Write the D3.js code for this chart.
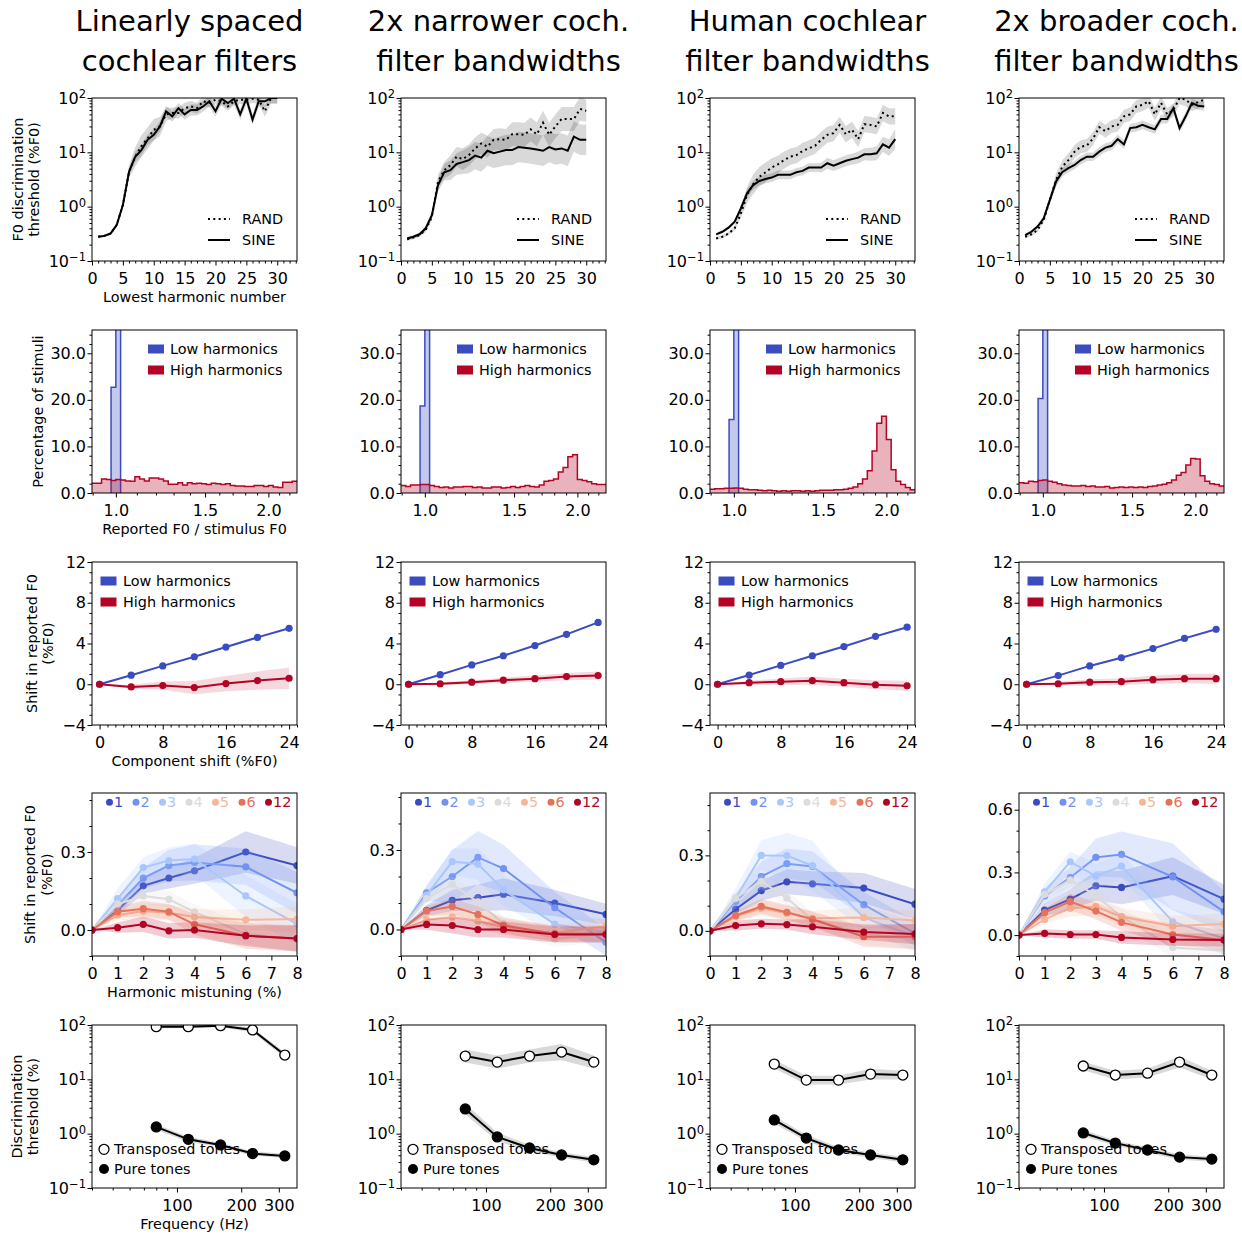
<!DOCTYPE html>
<html lang="en">
<head>
<meta charset="utf-8">
<title>Cochlear filter bandwidth comparison</title>
<script src="https://cdn.jsdelivr.net/npm/d3@7"></script>
<style>
body { margin:0; background:#fff; }
text { font-family: "DejaVu Sans", sans-serif; }
</style>
</head>
<body>
<svg id="fig" width="1242" height="1235"></svg>
<script>

// ---- data ----
var titles = [["Linearly spaced", "cochlear filters"], ["2x narrower coch.", "filter bandwidths"],
              ["Human cochlear", "filter bandwidths"], ["2x broader coch.", "filter bandwidths"]];

// row 1: F0 discrimination threshold vs lowest harmonic number
var lowestHarmonic = [1,2,3,4,5,6,7,8,9,10,11,12,13,14,15,16,17,18,19,20,21,22,23,24,25,26,27,28,29,30];
var sineThr = [
  [0.28,0.29,0.32,0.46,1.07,4.4,8.3,11,17,21,30,57,46,65,50,60,60,70,87,57,97,81,97,50,97,40,87,87,100,100],
  [0.26,0.28,0.31,0.40,0.70,2.5,4.3,4.7,6.1,6.6,7.2,8.7,8.0,10.7,9.6,10.3,11,11,12.5,12.2,11.8,11.3,10.7,12.5,11.3,11.8,10.7,19.5,17,17],
  [0.31,0.345,0.41,0.53,0.93,1.76,2.5,2.97,3.24,3.43,3.85,3.85,3.85,4.3,4.55,5.25,5.25,5.25,6.3,5.7,6.3,7.0,7.5,8.0,9.2,9.2,9.6,14.0,12.2,17.5],
  [0.30,0.345,0.43,0.61,1.33,2.9,4.3,5.1,5.85,7.2,8.3,8.3,10.3,12.2,13.2,17.5,14,28,29,32,29,26.5,41,41,65,28,46,81,72,70]
];
var randThr = [
  [0.28,0.29,0.32,0.46,1.07,4.4,8.3,13,18,26,30,50,53,53,65,70,65,87,81,93,87,70,87,93,93,97,93,57,100,100],
  [0.25,0.27,0.30,0.37,0.65,2.9,4.7,5.8,8.3,7.5,8.9,11.8,14.6,12.7,17,17.5,17,21.5,21.5,21,26.5,21.5,35,21,30,41,41,41,63,58],
  [0.26,0.28,0.32,0.40,0.75,1.64,2.6,3.55,4.3,5.25,6.0,7.2,8.3,8.9,10.6,11.8,13.2,17,21,22.6,32,21.5,26,17.5,33,32,30,53,46,46],
  [0.28,0.31,0.37,0.57,1.33,3.1,5.4,7.2,10.3,12.7,13.4,18,29,24.5,30,32,46,50,70,75,87,50,81,50,60,100,93,75,84,93]
];
// half widths of the grey bands, in decades
var sineErr = [
  [0.02,0.02,0.02,0.03,0.05,0.08,0.1,0.1,0.1,0.1,0.1,0.1,0.1,0.1,0.1,0.1,0.1,0.1,0.1,0.1,0.1,0.1,0.1,0.1,0.1,0.1,0.1,0.1,0.1,0.1],
  [0.03,0.03,0.03,0.04,0.06,0.12,0.15,0.18,0.2,0.22,0.24,0.25,0.26,0.27,0.27,0.28,0.28,0.28,0.28,0.28,0.28,0.28,0.28,0.28,0.28,0.28,0.28,0.28,0.28,0.28],
  [0.03,0.03,0.03,0.04,0.06,0.08,0.08,0.08,0.08,0.08,0.08,0.08,0.08,0.08,0.08,0.08,0.08,0.09,0.1,0.1,0.1,0.1,0.1,0.11,0.11,0.12,0.13,0.14,0.15,0.18],
  [0.03,0.03,0.03,0.04,0.06,0.08,0.08,0.08,0.08,0.08,0.08,0.08,0.08,0.08,0.08,0.08,0.08,0.08,0.08,0.08,0.08,0.08,0.08,0.08,0.08,0.08,0.08,0.08,0.08,0.08]
];
var randErr = [
  [0.02,0.02,0.02,0.03,0.06,0.12,0.18,0.2,0.2,0.2,0.18,0.12,0.1,0.1,0.1,0.1,0.1,0.1,0.08,0.08,0.08,0.08,0.08,0.08,0.08,0.08,0.08,0.1,0.1,0.1],
  [0.03,0.03,0.03,0.04,0.06,0.12,0.15,0.18,0.18,0.2,0.2,0.2,0.2,0.2,0.2,0.2,0.2,0.22,0.22,0.22,0.22,0.22,0.22,0.22,0.22,0.22,0.22,0.22,0.22,0.2],
  [0.03,0.03,0.03,0.04,0.08,0.15,0.18,0.18,0.18,0.17,0.16,0.16,0.15,0.15,0.15,0.15,0.15,0.15,0.15,0.15,0.15,0.15,0.15,0.15,0.15,0.15,0.15,0.15,0.15,0.15],
  [0.03,0.03,0.03,0.04,0.06,0.12,0.12,0.12,0.12,0.12,0.12,0.12,0.12,0.12,0.12,0.12,0.12,0.12,0.12,0.12,0.12,0.12,0.12,0.12,0.12,0.12,0.12,0.12,0.12,0.12]
];

// row 2: histograms of reported F0 / stimulus F0 (bins of 1/32 octave, first bin starts at 2^(-5/32))
var histFirstBin = -5, histBinsPerOct = 32;
var highHist = [
  [2.1,2.1,3.0,2.9,2.7,2.9,2.8,2.6,2.5,3.5,3.0,2.6,3.2,3.2,3.0,2.6,1.9,1.9,2.2,1.7,2.2,2.0,2.1,2.0,1.8,2.1,2.0,1.8,2.0,1.6,1.5,1.5,1.4,1.4,1.6,1.6,1.4,1.6,1.3,1.2,2.3,2.3,2.5],
  [1.6,1.4,1.7,1.7,1.8,1.8,1.6,1.4,1.2,1.3,1.1,1.3,1.3,1.4,1.4,1.2,1.3,1.1,1.1,1.3,1.3,1.1,1.2,1.4,1.2,1.4,1.6,1.4,1.3,1.7,2.5,2.7,3.0,4.5,5.5,7.8,8.2,2.9,2.7,2.4,2.0,1.8,1.8],
  [0.8,0.9,0.9,1.0,1.0,1.1,1.0,0.8,0.7,0.7,0.6,0.5,0.6,0.5,0.4,0.5,0.4,0.5,0.5,0.4,0.5,0.4,0.5,0.6,0.6,0.6,0.7,0.7,0.8,1.0,1.3,2.0,3.0,4.8,9.0,15.0,16.5,11.5,5.0,2.5,1.8,1.2,0.7],
  [2.2,2.1,2.5,2.4,2.7,2.8,2.5,2.3,2.0,1.7,1.6,1.5,1.5,1.6,1.4,1.5,1.3,1.3,1.4,1.1,1.2,1.3,1.2,1.3,1.2,1.3,1.2,1.4,1.5,1.7,1.9,2.2,2.8,3.8,4.4,6.0,7.4,7.3,3.7,2.5,2.0,1.8,1.5]
];
// low harmonics: all mass in the two bins around 1.0 (bin index 4 and 5), the second far off scale
var lowSpikeFirst = 4;
var lowSpike = [[22.7, 60], [18.7, 60], [15.8, 60], [20.3, 60]];

// row 3: shift in reported F0 vs component shift
var compShift = [0, 4, 8, 12, 16, 20, 24];
var lowShift = [[0,0.89,1.8,2.7,3.65,4.6,5.49], [0,0.94,1.9,2.8,3.8,4.9,6.07], [0,0.9,1.85,2.8,3.7,4.7,5.6], [0,0.85,1.8,2.6,3.5,4.5,5.4]];
var lowShiftErr = [[0,0.05,0.06,0.08,0.08,0.1,0.1], [0,0.05,0.06,0.08,0.08,0.1,0.1], [0,0.05,0.06,0.08,0.08,0.1,0.1], [0,0.05,0.06,0.08,0.08,0.1,0.1]];
var highShift = [[0,-0.26,-0.13,-0.33,0.07,0.36,0.59], [0,0.05,0.2,0.4,0.55,0.75,0.85], [0,0.15,0.25,0.35,0.15,-0.05,-0.15], [0,0.05,0.2,0.25,0.45,0.55,0.55]];
var highShiftErr = [[0,0.2,0.4,0.65,0.75,0.9,1.05], [0,0.15,0.2,0.25,0.3,0.35,0.4], [0,0.2,0.3,0.4,0.4,0.45,0.5], [0,0.2,0.3,0.35,0.4,0.45,0.5]];

// row 4: shift in reported F0 vs harmonic mistuning, one line per mistuned harmonic
var mistuning = [0, 1, 2, 3, 4, 6, 8];
var mistunedHarm = [1, 2, 3, 4, 5, 6, 12];
var mistuneColors = ["#3b4cc0", "#7093f3", "#aac7fd", "#dddcdc", "#f5b79c", "#e5735c", "#b40426"];
var mistuneYTop = [0.527, 0.515, 0.548, 0.68];
var mistuneShift = [
  [[0,0.076,0.17,0.2,0.228,0.30,0.248], [0,0.095,0.2,0.248,0.26,0.243,0.143], [0,0.121,0.24,0.267,0.273,0.131,0.024],
   [0,0.1,0.131,0.118,0.07,-0.015,-0.035], [0,0.057,0.073,0.066,0.05,0.039,0.042], [0,0.07,0.082,0.07,0.022,-0.022,-0.033],
   [0,0.009,0.022,-0.003,0.0,-0.022,-0.033]],
  [[0,0.072,0.11,0.12,0.133,0.1,0.057], [0,0.138,0.2,0.272,0.23,0.082,-0.048], [0,0.13,0.256,0.247,0.15,0.02,-0.01],
   [0,0.117,0.171,0.104,0.022,-0.035,-0.016], [0,0.037,0.047,0.032,0.009,-0.014,0.013], [0,0.07,0.087,0.057,0.015,-0.016,-0.016],
   [0,0.019,0.015,0,0,-0.019,-0.019]],
  [[0,0.086,0.16,0.195,0.187,0.17,0.106], [0,0.117,0.216,0.267,0.256,0.104,-0.01], [0,0.13,0.3,0.299,0.259,0.053,-0.023],
   [0,0.13,0.197,0.13,0.044,-0.012,-0.033], [0,0.057,0.09,0.07,0.05,0.053,0.041], [0,0.061,0.097,0.074,0.046,-0.023,-0.023],
   [0,0.021,0.028,0.025,0.016,-0.005,-0.013]],
  [[0,0.12,0.172,0.236,0.228,0.282,0.172], [0,0.187,0.276,0.372,0.386,0.279,0.112], [0,0.207,0.351,0.282,0.33,0.064,-0.016],
   [0,0.195,0.263,0.19,0.088,-0.059,-0.075], [0,0.075,0.128,0.136,0.088,0.043,0.053], [0,0.108,0.16,0.115,0.061,0.003,-0.024],
   [0,0.008,0.003,0.003,-0.011,-0.021,-0.024]]
];
var mistuneErr = [
  [[0,0.02,0.03,0.04,0.05,0.08,0.07], [0,0.03,0.04,0.06,0.07,0.07,0.08], [0,0.04,0.04,0.05,0.06,0.08,0.08],
   [0,0.02,0.03,0.03,0.03,0.04,0.05], [0,0.02,0.03,0.03,0.03,0.04,0.05], [0,0.02,0.03,0.03,0.04,0.05,0.05], [0,0.02,0.03,0.03,0.03,0.04,0.05]],
  [[0,0.02,0.04,0.05,0.06,0.05,0.04], [0,0.03,0.1,0.1,0.09,0.06,0.05], [0,0.03,0.05,0.06,0.06,0.04,0.05],
   [0,0.02,0.03,0.03,0.03,0.03,0.03], [0,0.02,0.03,0.03,0.03,0.03,0.03], [0,0.02,0.03,0.03,0.03,0.03,0.03], [0,0.02,0.03,0.03,0.03,0.03,0.03]],
  [[0,0.02,0.04,0.05,0.05,0.06,0.06], [0,0.03,0.06,0.06,0.06,0.05,0.05], [0,0.04,0.06,0.09,0.1,0.05,0.06],
   [0,0.02,0.03,0.03,0.03,0.04,0.04], [0,0.02,0.03,0.03,0.03,0.04,0.04], [0,0.02,0.03,0.03,0.03,0.04,0.05], [0,0.02,0.02,0.02,0.03,0.03,0.04]],
  [[0,0.03,0.05,0.07,0.08,0.09,0.07], [0,0.04,0.05,0.09,0.11,0.16,0.1], [0,0.04,0.05,0.06,0.06,0.06,0.08],
   [0,0.02,0.04,0.04,0.04,0.05,0.05], [0,0.02,0.04,0.04,0.04,0.05,0.05], [0,0.02,0.04,0.04,0.04,0.05,0.05], [0,0.02,0.02,0.02,0.03,0.03,0.03]]
];

// row 5: discrimination thresholds for transposed and pure tones
var toneFreq = [80, 113, 160, 226, 320];
var transposedThr = [[93,93,97,81,28], [26.8,20.8,26.8,31.8,20.8], [19.1,9.7,9.7,12.5,12], [17.6,12,13,20.8,12]];
var pureThr = [[1.33,0.786,0.62,0.43,0.39], [2.85,0.87,0.545,0.405,0.33], [1.79,0.83,0.5,0.405,0.33], [1.03,0.67,0.5,0.37,0.34]];
var transposedErr = [[0.03,0.03,0.03,0.04,0.05], [0.12,0.12,0.12,0.15,0.12], [0.08,0.08,0.08,0.1,0.08], [0.08,0.08,0.08,0.1,0.08]];
var pureErr = [[0.05,0.05,0.04,0.04,0.04], [0.1,0.08,0.06,0.05,0.05], [0.07,0.06,0.05,0.05,0.05], [0.06,0.05,0.05,0.05,0.05]];

// ---- layout ----
var svg = d3.select("#fig");
var colLeft = [92, 401, 710, 1019];
var rowTop = [98, 330, 562, 793, 1025];
var panelW = 205, panelH = 163;
var tickFont = 16, labelFont = 14.4, titleFont = 29;
var blue = "#3b4cc0", red = "#b40426";

function panel(col, row) {
  var g = svg.append("g").attr("transform", "translate(" + colLeft[col] + "," + rowTop[row] + ")");
  var id = "clip" + col + "_" + row;
  g.append("clipPath").attr("id", id).append("rect").attr("width", panelW).attr("height", panelH);
  var plot = g.append("g").attr("clip-path", "url(#" + id + ")");
  return {g: g, plot: plot};
}

function frame(g) {
  g.append("rect").attr("width", panelW).attr("height", panelH)
    .attr("fill", "none").attr("stroke", "#000").attr("stroke-width", 1);
}

function addAxis(g, orient, scale, majors, minors, fmt) {
  var bottom = orient === "bottom";
  var mk = bottom ? d3.axisBottom : d3.axisLeft;
  var pos = bottom ? "translate(0," + panelH + ")" : null;
  var dom = scale.domain();
  var lo = Math.min(dom[0], dom[1]), hi = Math.max(dom[0], dom[1]);
  minors = (minors || []).filter(function(v) { return v >= lo - 1e-9 && v <= hi + 1e-9; });
  if (minors.length) {
    var m = g.append("g").attr("transform", pos)
      .call(mk(scale).tickValues(minors).tickSize(2.5).tickSizeOuter(0).tickFormat(""));
    m.select(".domain").remove();
  }
  var a = g.append("g").attr("transform", pos)
    .call(mk(scale).tickValues(majors).tickSize(4.5).tickSizeOuter(0)
      .tickPadding(bottom ? 7 : 1.5).tickFormat(fmt));
  a.select(".domain").remove();
  a.attr("font-size", tickFont);
  return a;
}

function logLabels(a) {
  a.selectAll(".tick text").each(function(d) {
    var e = Math.round(Math.log10(d));
    var t = d3.select(this).text("10");
    t.append("tspan").attr("dy", "-0.45em").attr("font-size", 11.5)
      .text(e < 0 ? "\u2212" + (-e) : e);
  });
}

function logMinors(lo, hi) {
  var out = [];
  for (var d = lo; d < hi; d *= 10) for (var m = 2; m < 10; m++) out.push(d * m);
  return out;
}

function minusFmt(d) { return d < 0 ? "\u2212" + (-d) : String(d); }

function yLabel(row, lines, xs) {
  var cy = rowTop[row] + panelH / 2;
  lines.forEach(function(s, i) {
    svg.append("text").attr("transform", "translate(" + xs[i] + "," + cy + ") rotate(-90)")
      .attr("text-anchor", "middle").attr("dy", "0.35em").attr("font-size", labelFont).text(s);
  });
}

function xLabel(row, s) {
  svg.append("text").attr("x", colLeft[0] + panelW / 2).attr("y", rowTop[row] + panelH + 41)
    .attr("text-anchor", "middle").attr("font-size", labelFont).text(s);
}

// ---- titles ----
titles.forEach(function(t, c) {
  t.forEach(function(s, i) {
    svg.append("text").attr("x", colLeft[c] + panelW / 2 - 5).attr("y", 31 + 40 * i)
      .attr("text-anchor", "middle").attr("font-size", titleFont).text(s);
  });
});

// ---- row 1 ----
var xHarm = d3.scaleLinear().domain([0, 33.2]).range([0, panelW]);
var yThr = d3.scaleLog().domain([0.1, 100]).range([panelH, 0]);

for (var c = 0; c < 4; c++) {
  var p = panel(c, 0);
  var series = [{v: randThr[c], e: randErr[c], dash: "2,3.3"}, {v: sineThr[c], e: sineErr[c], dash: null}];
  series.forEach(function(s) {
    var area = d3.area()
      .x(function(d, i) { return xHarm(lowestHarmonic[i]); })
      .y0(function(d, i) { return yThr(d / Math.pow(10, s.e[i])); })
      .y1(function(d, i) { return yThr(d * Math.pow(10, s.e[i])); });
    p.plot.append("path").datum(s.v).attr("d", area).attr("fill", "#000").attr("fill-opacity", 0.15);
  });
  series.forEach(function(s) {
    var line = d3.line()
      .x(function(d, i) { return xHarm(lowestHarmonic[i]); })
      .y(function(d) { return yThr(d); });
    p.plot.append("path").datum(s.v).attr("d", line).attr("fill", "none")
      .attr("stroke", "#000").attr("stroke-width", 2).attr("stroke-dasharray", s.dash);
  });
  // legend
  [["RAND", "2,3.3", 121], ["SINE", null, 142]].forEach(function(l) {
    p.g.append("line").attr("x1", 116).attr("x2", 138).attr("y1", l[2]).attr("y2", l[2])
      .attr("stroke", "#000").attr("stroke-width", 2).attr("stroke-dasharray", l[1]);
    p.g.append("text").attr("x", 150).attr("y", l[2]).attr("dy", "0.36em")
      .attr("font-size", labelFont).text(l[0]);
  });
  frame(p.g);
  addAxis(p.g, "bottom", xHarm, [0, 5, 10, 15, 20, 25, 30], d3.range(0, 34).filter(function(v) { return v % 5; }), d3.format("d"));
  logLabels(addAxis(p.g, "left", yThr, [0.1, 1, 10, 100], logMinors(0.1, 100), d3.format("")));
}
yLabel(0, ["F0 discrimination", "threshold (%F0)"], [17.5, 34]);
xLabel(0, "Lowest harmonic number");

// ---- row 2 ----
var nBins = highHist[0].length;
function binEdge(i) { return Math.pow(2, (histFirstBin + i) / histBinsPerOct); }
var xRatio = d3.scaleLog().base(2).domain([binEdge(0), binEdge(nBins)]).range([0, panelW]);
var yPct = d3.scaleLinear().domain([0, 35]).range([panelH, 0]);

function stepPoints(h, first) {
  var pts = h.map(function(v, i) { return [binEdge(first + i), v]; });
  pts.push([binEdge(first + h.length), h[h.length - 1]]);
  return pts;
}

for (var c = 0; c < 4; c++) {
  var p = panel(c, 1);
  var area = d3.area().curve(d3.curveStepAfter)
    .x(function(d) { return xRatio(d[0]); }).y0(yPct(0)).y1(function(d) { return yPct(d[1]); });
  var line = d3.line().curve(d3.curveStepAfter)
    .x(function(d) { return xRatio(d[0]); }).y(function(d) { return yPct(d[1]); });

  var lowPts = stepPoints(lowSpike[c], lowSpikeFirst);
  p.plot.append("path").datum(lowPts).attr("d", area).attr("fill", blue).attr("fill-opacity", 0.3);
  var lowOutline = [[binEdge(lowSpikeFirst), 0]].concat(lowPts.slice(0, -1))
    .concat([[binEdge(lowSpikeFirst + lowSpike[c].length), 0]]);
  p.plot.append("path").datum(lowOutline).attr("d", line).attr("fill", "none")
    .attr("stroke", blue).attr("stroke-width", 1.5);

  var highPts = stepPoints(highHist[c], 0);
  p.plot.append("path").datum(highPts).attr("d", area).attr("fill", red).attr("fill-opacity", 0.3);
  p.plot.append("path").datum(highPts).attr("d", line).attr("fill", "none")
    .attr("stroke", red).attr("stroke-width", 1.5);

  [["Low harmonics", blue, 19], ["High harmonics", red, 40]].forEach(function(l) {
    p.g.append("rect").attr("x", 56).attr("y", l[2] - 4.5).attr("width", 16).attr("height", 9).attr("fill", l[1]);
    p.g.append("text").attr("x", 78).attr("y", l[2]).attr("dy", "0.36em").attr("font-size", labelFont).text(l[0]);
  });
  frame(p.g);
  addAxis(p.g, "bottom", xRatio, [1, 1.5, 2], [0.9, 1.1, 1.2, 1.3, 1.4, 1.6, 1.7, 1.8, 1.9, 2.1, 2.2], d3.format(".1f"));
  addAxis(p.g, "left", yPct, [0, 10, 20, 30], [2, 4, 6, 8, 12, 14, 16, 18, 22, 24, 26, 28, 32, 34], d3.format(".1f"));
}
yLabel(1, ["Percentage of stimuli"], [38]);
xLabel(1, "Reported F0 / stimulus F0");

// ---- row 3 ----
var xComp = d3.scaleLinear().domain([-0.96, 25]).range([0, panelW]);
var yShift = d3.scaleLinear().domain([-4, 12]).range([panelH, 0]);

for (var c = 0; c < 4; c++) {
  var p = panel(c, 2);
  [{v: lowShift[c], e: lowShiftErr[c], col: blue}, {v: highShift[c], e: highShiftErr[c], col: red}].forEach(function(s) {
    var area = d3.area()
      .x(function(d, i) { return xComp(compShift[i]); })
      .y0(function(d, i) { return yShift(d - s.e[i]); })
      .y1(function(d, i) { return yShift(d + s.e[i]); });
    p.plot.append("path").datum(s.v).attr("d", area).attr("fill", s.col).attr("fill-opacity", 0.15);
    var line = d3.line().x(function(d, i) { return xComp(compShift[i]); }).y(function(d) { return yShift(d); });
    p.plot.append("path").datum(s.v).attr("d", line).attr("fill", "none").attr("stroke", s.col).attr("stroke-width", 2);
    p.plot.selectAll(null).data(s.v).enter().append("circle")
      .attr("cx", function(d, i) { return xComp(compShift[i]); }).attr("cy", function(d) { return yShift(d); })
      .attr("r", 3.6).attr("fill", s.col);
  });
  [["Low harmonics", blue, 19], ["High harmonics", red, 40]].forEach(function(l) {
    p.g.append("rect").attr("x", 8.5).attr("y", l[2] - 4.5).attr("width", 16).attr("height", 9).attr("fill", l[1]);
    p.g.append("text").attr("x", 31).attr("y", l[2]).attr("dy", "0.36em").attr("font-size", labelFont).text(l[0]);
  });
  frame(p.g);
  addAxis(p.g, "bottom", xComp, [0, 8, 16, 24], d3.range(-1, 26).filter(function(v) { return v % 8; }), d3.format("d"));
  addAxis(p.g, "left", yShift, [-4, 0, 4, 8, 12], d3.range(-4, 13).filter(function(v) { return v % 4; }), minusFmt);
}
yLabel(2, ["Shift in reported F0", "(%F0)"], [31.5, 48]);
xLabel(2, "Component shift (%F0)");

// ---- row 4 ----
var xMis = d3.scaleLinear().domain([0, 8]).range([0, panelW]);

for (var c = 0; c < 4; c++) {
  var p = panel(c, 3);
  var yMis = d3.scaleLinear().domain([-0.1, mistuneYTop[c]]).range([panelH, 0]);
  mistunedHarm.forEach(function(h, k) {
    var v = mistuneShift[c][k], e = mistuneErr[c][k], col = mistuneColors[k];
    var area = d3.area()
      .x(function(d, i) { return xMis(mistuning[i]); })
      .y0(function(d, i) { return yMis(d - e[i]); })
      .y1(function(d, i) { return yMis(d + e[i]); });
    p.plot.append("path").datum(v).attr("d", area).attr("fill", col).attr("fill-opacity", 0.2);
    var line = d3.line().x(function(d, i) { return xMis(mistuning[i]); }).y(function(d) { return yMis(d); });
    p.plot.append("path").datum(v).attr("d", line).attr("fill", "none").attr("stroke", col).attr("stroke-width", 2);
    p.plot.selectAll(null).data(v).enter().append("circle")
      .attr("cx", function(d, i) { return xMis(mistuning[i]); }).attr("cy", function(d) { return yMis(d); })
      .attr("r", 3.6).attr("fill", col);
  });
  mistunedHarm.forEach(function(h, k) {
    var lx = 17.5 + 26.5 * k;
    p.g.append("circle").attr("cx", lx).attr("cy", 9.3).attr("r", 3.5).attr("fill", mistuneColors[k]);
    p.g.append("text").attr("x", lx + 4.5).attr("y", 9.3).attr("dy", "0.36em")
      .attr("font-size", labelFont).attr("fill", mistuneColors[k]).text(h);
  });
  frame(p.g);
  addAxis(p.g, "bottom", xMis, [0, 1, 2, 3, 4, 5, 6, 7, 8], [], d3.format("d"));
  var majors = c === 3 ? [0, 0.3, 0.6] : [0, 0.3];
  var minors = [-0.1, 0.1, 0.2, 0.4, 0.5];
  addAxis(p.g, "left", yMis, majors, minors, d3.format(".1f"));
}
yLabel(3, ["Shift in reported F0", "(%F0)"], [30, 46.7]);
xLabel(3, "Harmonic mistuning (%)");

// ---- row 5 ----
var xFreq = d3.scaleLog().domain([40, 365]).range([0, panelW]);

for (var c = 0; c < 4; c++) {
  var p = panel(c, 4);
  // legend first: the curves run over it
  p.g.append("circle").attr("cx", 12).attr("cy", 124.3).attr("r", 5).attr("fill", "#fff").attr("stroke", "#000").attr("stroke-width", 1.3);
  p.g.append("text").attr("x", 22).attr("y", 124.3).attr("dy", "0.36em").attr("font-size", labelFont).text("Transposed tones");
  p.g.append("circle").attr("cx", 12).attr("cy", 144).attr("r", 5).attr("fill", "#000");
  p.g.append("text").attr("x", 22).attr("y", 144).attr("dy", "0.36em").attr("font-size", labelFont).text("Pure tones");

  [{v: transposedThr[c], e: transposedErr[c], fill: "#fff"}, {v: pureThr[c], e: pureErr[c], fill: "#000"}].forEach(function(s) {
    var area = d3.area()
      .x(function(d, i) { return xFreq(toneFreq[i]); })
      .y0(function(d, i) { return yThr(d / Math.pow(10, s.e[i])); })
      .y1(function(d, i) { return yThr(d * Math.pow(10, s.e[i])); });
    p.plot.append("path").datum(s.v).attr("d", area).attr("fill", "#000").attr("fill-opacity", 0.15);
    var line = d3.line().x(function(d, i) { return xFreq(toneFreq[i]); }).y(function(d) { return yThr(d); });
    p.plot.append("path").datum(s.v).attr("d", line).attr("fill", "none").attr("stroke", "#000").attr("stroke-width", 2);
    p.plot.selectAll(null).data(s.v).enter().append("circle")
      .attr("cx", function(d, i) { return xFreq(toneFreq[i]); }).attr("cy", function(d) { return yThr(d); })
      .attr("r", 5).attr("fill", s.fill).attr("stroke", "#000").attr("stroke-width", 1.3);
  });
  frame(p.g);
  addAxis(p.g, "bottom", xFreq, [100, 200, 300], [40, 50, 60, 70, 80, 90], d3.format("d"));
  logLabels(addAxis(p.g, "left", yThr, [0.1, 1, 10, 100], logMinors(0.1, 100), d3.format("")));
}
yLabel(4, ["Discrimination", "threshold (%)"], [16.7, 33.3]);
xLabel(4, "Frequency (Hz)");

</script>
</body>
</html>
